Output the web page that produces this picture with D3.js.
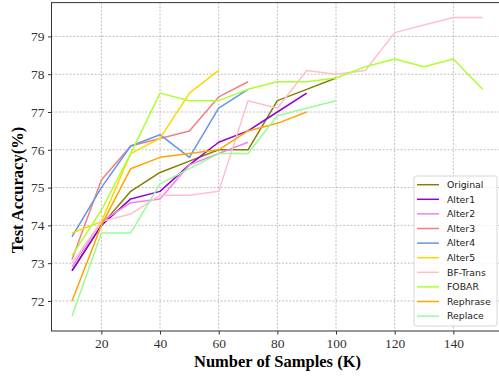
<!DOCTYPE html>
<html>
<head>
<meta charset="utf-8">
<script src="https://cdn.jsdelivr.net/npm/d3@7/dist/d3.min.js"></script>
<style>
  body { margin: 0; background: #fff; }
  svg { display: block; }
  .grid line { stroke: #b0b0b0; stroke-dasharray: 2,1.6; stroke-width: 0.8; }
  .tick text { font-family: "Liberation Serif", serif; font-size: 13.5px; fill: #333; }
  .tick line { stroke: #333; }
</style>
</head>
<body>
<div id="chart"></div>
<script>
// sample sizes (K)
var samples = [10, 20, 30, 40, 50, 60, 70, 80, 90, 100, 110, 120, 130, 140, 150]

// accuracy values
var original = [72.8, 74.0, 74.9, 75.4, 75.7, 76.0, 76.0, 77.3, 77.6, 77.9]
var alter1 = [72.8, 74.0, 74.7, 74.9, 75.6, 76.2, 76.5, 77.0, 77.5]
var alter2 = [72.9, 74.1, 74.6, 74.7, 75.6, 75.9, 76.2]
var alter3 = [73.1, 75.2, 76.1, 76.3, 76.5, 77.4, 77.8]
var alter4 = [73.7, 75.0, 76.1, 76.4, 75.8, 77.1, 77.6]
var alter5 = [73.8, 74.1, 75.9, 76.3, 77.5, 78.1]
var bfTrans = [73.0, 74.1, 74.3, 74.8, 74.8, 74.9, 77.3, 77.1, 78.1, 78.0, 78.1, 79.1, 79.3, 79.5, 79.5]
var fobar = [73.2, 74.4, 75.9, 77.5, 77.3, 77.3, 77.6, 77.8, 77.8, 77.9, 78.2, 78.4, 78.2, 78.4, 77.6]
var rephrase = [72.0, 74.0, 75.5, 75.8, 75.9, 76.0, 76.5, 76.7, 77.0]
var replace = [71.6, 73.8, 73.8, 75.1, 75.5, 75.9, 75.9, 76.9, 77.1, 77.3]

var seriesNames = ['Original', 'Alter1', 'Alter2', 'Alter3', 'Alter4', 'Alter5', 'BF-Trans', 'FOBAR', 'Rephrase', 'Replace']
var seriesValues = [original, alter1, alter2, alter3, alter4, alter5, bfTrans, fobar, rephrase, replace]
var seriesColors = ['#808000', '#9400d3', '#ee82ee', '#f08080', '#6495ed', '#ffd700', '#ffc0cb', '#adff2f', '#ffa500', '#98fb98']

var xTicks = [20, 40, 60, 80, 100, 120, 140]
var yTicks = [72, 73, 74, 75, 76, 77, 78, 79]

// SVG area
var svgWidth = 499
var svgHeight = 376

var plot = { left: 51.5, right: 503.2, top: 2.6, bottom: 331 }

var svg = d3.select('#chart')
  .append('svg')
  .attr('width', svgWidth)
  .attr('height', svgHeight)

var xScale = d3.scaleLinear()
  .domain([3, 157])
  .range([plot.left, plot.right])

var yScale = d3.scaleLinear()
  .domain([71.205, 79.895])
  .range([plot.bottom, plot.top])

// grid lines
var grid = svg.append('g').attr('class', 'grid')
grid.selectAll('.gx')
  .data(xTicks)
  .enter()
  .append('line')
  .attr('x1', d => xScale(d))
  .attr('x2', d => xScale(d))
  .attr('y1', plot.top)
  .attr('y2', plot.bottom)
grid.selectAll('.gy')
  .data(yTicks)
  .enter()
  .append('line')
  .attr('x1', plot.left)
  .attr('x2', plot.right)
  .attr('y1', d => yScale(d))
  .attr('y2', d => yScale(d))

// lines
var line = d3.line()
  .x((d, i) => xScale(samples[i]))
  .y(d => yScale(d))

svg.append('g')
  .selectAll('path')
  .data(seriesValues)
  .enter()
  .append('path')
  .attr('d', d => line(d))
  .attr('fill', 'none')
  .attr('stroke', (d, i) => seriesColors[i])
  .attr('stroke-width', 1.5)
  .attr('stroke-linejoin', 'round')

// axes
var bottomAxis = d3.axisBottom(xScale).tickValues(xTicks).tickSize(3.5).tickPadding(3.5)
var leftAxis = d3.axisLeft(yScale).tickValues(yTicks).tickSize(3.5).tickPadding(3.5)

var gx = svg.append('g')
  .attr('transform', `translate(0, ${plot.bottom})`)
  .call(bottomAxis)
gx.select('.domain').remove()

var gy = svg.append('g')
  .attr('transform', `translate(${plot.left}, 0)`)
  .call(leftAxis)
gy.select('.domain').remove()

// frame
svg.append('rect')
  .attr('x', plot.left)
  .attr('y', plot.top)
  .attr('width', plot.right - plot.left)
  .attr('height', plot.bottom - plot.top)
  .attr('fill', 'none')
  .attr('stroke', '#333')
  .attr('stroke-width', 1)

// axis labels
svg.append('text')
  .attr('x', 277.5)
  .attr('y', 367)
  .attr('text-anchor', 'middle')
  .style('font-family', '"Liberation Serif", serif')
  .style('font-weight', 'bold')
  .style('font-size', '16.5px')
  .text('Number of Samples (K)')

svg.append('text')
  .attr('transform', 'translate(23, 190) rotate(-90)')
  .attr('text-anchor', 'middle')
  .style('font-family', '"Liberation Serif", serif')
  .style('font-weight', 'bold')
  .style('font-size', '16.5px')
  .text('Test Accuracy(%)')

// legend
var legend = svg.append('g').attr('transform', 'translate(414, 176)')
legend.append('rect')
  .attr('width', 83)
  .attr('height', 150)
  .attr('rx', 2)
  .attr('fill', '#fff')
  .attr('fill-opacity', 0.8)
  .attr('stroke', '#cccccc')
  .attr('stroke-width', 0.8)

var items = legend.selectAll('.item')
  .data(seriesNames)
  .enter()
  .append('g')
  .attr('transform', (d, i) => `translate(0, ${8.7 + i * 14.6})`)

items.append('line')
  .attr('x1', 3)
  .attr('x2', 25)
  .attr('stroke', (d, i) => seriesColors[i])
  .attr('stroke-width', 1.5)

items.append('text')
  .attr('x', 33)
  .attr('dy', '0.35em')
  .style('font-family', '"DejaVu Sans", sans-serif')
  .style('font-size', '9.3px')
  .style('fill', '#222')
  .text(d => d)
</script>
</body>
</html>
